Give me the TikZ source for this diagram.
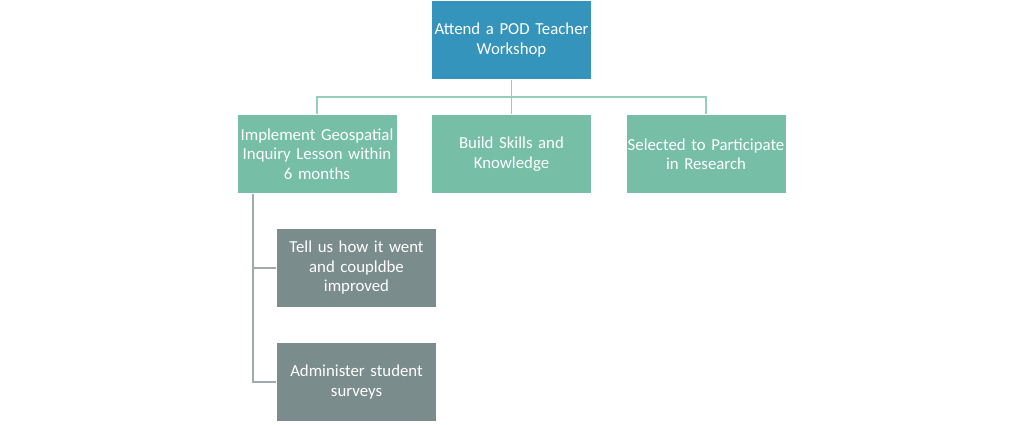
\documentclass[tikz,border=0pt]{standalone}
\usepackage{fontspec}
\setmainfont{Carlito}
\usepackage{xcolor}
\definecolor{ColTop}{RGB}{53,148,187}
\definecolor{ColMid}{RGB}{118,190,166}
\definecolor{ColLow}{RGB}{123,140,140}
\definecolor{ColLineG}{RGB}{150,206,186}
\definecolor{ColLineL}{RGB}{160,172,172}
\usepackage{tikz}
\tikzstyle{Box}=[rectangle,draw=white,line width=.6pt,minimum width=160pt,
minimum height=79pt,inner sep=1pt,text width=158pt,align=center,
text=white,font=\fontsize{16.8}{19.5}\selectfont]
\tikzstyle{BoxTop}=[Box,fill=ColTop]
\tikzstyle{BoxMid}=[Box,fill=ColMid]
\tikzstyle{BoxLow}=[Box,fill=ColLow]
\tikzstyle{LinkG}=[draw=ColLineG,line width=1.3pt]
\tikzstyle{LinkL}=[draw=ColLineL,line width=1.3pt]

\begin{document}
\begin{tikzpicture}[x=1pt,y=-1pt]
        \useasboundingbox(0,0)rectangle(1024,424);
        \node[BoxTop](w)at(511.5,40.00){Attend a POD Teacher\\Workshop};
        \node[BoxMid](l)at(317.00,154.00){Implement Geospatial\\Inquiry Lesson within\\6 months};
        \node[BoxMid](b)at(511.5,154.00){Build Skills and\\Knowledge};
        \node[BoxMid](r)at(706.00,154.00){Selected to Participate\\in Research};
        \node[BoxLow](t)at(356.5,268.00){Tell us how it went\\and coupldbe\\improved};
        \node[BoxLow](s)at(356.5,382.00){Administer student\\surveys};
        \coordinate(j)at(511.5,97.00);
        \draw[LinkG](w.south)--(b.north);
        \draw[LinkG](l.north)|-(j)-|(r.north);
        \draw[LinkL]([xshift=-64pt]l.south)|-(t.west);
        \draw[LinkL]([xshift=-64pt]l.south)|-(s.west);
    \end{tikzpicture}
\end{document}
